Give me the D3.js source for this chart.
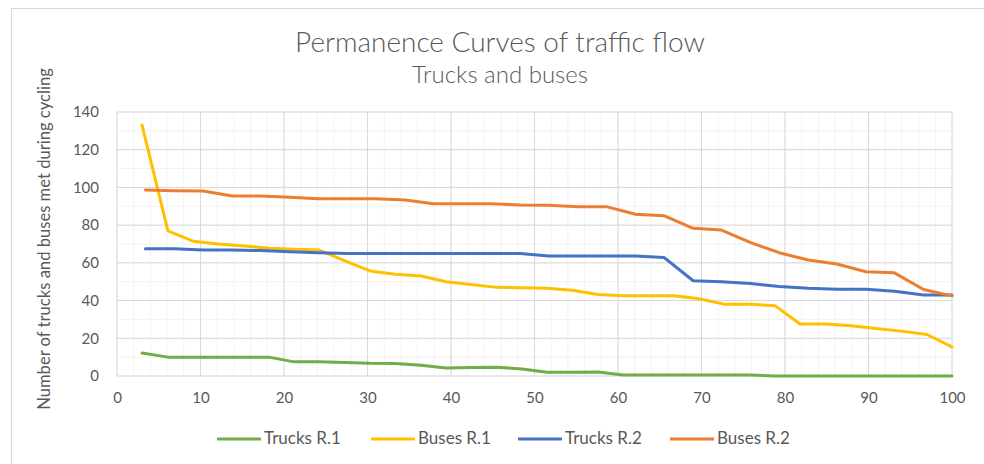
<!DOCTYPE html>
<html>
<head>
<meta charset="utf-8">
<script src="https://cdn.jsdelivr.net/npm/d3@7"></script>
<style>
  body { margin: 0; background: #fff; }
  text { font-family: Lato, "Open Sans", sans-serif; fill: #595959; }
</style>
</head>
<body>
<svg id="chart"></svg>
<script>
// permanence curves, trucks and buses met on two routes

// DATA
// x = % of time, route 1 has 33 samples, route 2 has 29
let xR1 = [3.0, 6.1, 9.1, 12.1, 15.2, 18.2, 21.2, 24.2, 27.3, 30.3, 33.3, 36.4, 39.4,
           42.4, 45.5, 48.5, 51.5, 54.5, 57.6, 60.6, 63.6, 66.7, 69.7, 72.7, 75.8,
           78.8, 81.8, 84.8, 87.9, 90.9, 93.9, 97.0, 100];
let xR2 = [3.4, 6.9, 10.3, 13.8, 17.2, 20.7, 24.1, 27.6, 31.0, 34.5, 37.9, 41.4, 44.8,
           48.3, 51.7, 55.2, 58.6, 62.1, 65.5, 69.0, 72.4, 75.9, 79.3, 82.8, 86.2,
           89.7, 93.1, 96.6, 100];

let trucksR1 = [12.2, 10, 10, 10, 10, 10, 7.5, 7.5, 7.2, 6.7, 6.6, 5.7, 4.3, 4.5, 4.7,
                3.7, 2.0, 2.0, 2.1, 0.5, 0.5, 0.5, 0.5, 0.5, 0.5, 0, 0, 0, 0, 0, 0, 0, 0];
let busesR1 = [133, 77, 71.5, 70, 69, 67.7, 67.2, 66.8, 61, 55.7, 54, 53, 50, 48.5, 47,
               46.8, 46.5, 45.5, 43.2, 42.6, 42.6, 42.6, 41, 38.1, 38.1, 37.3, 27.6,
               27.6, 26.6, 25.2, 23.8, 22, 15.4];
let trucksR2 = [67.5, 67.5, 66.8, 66.8, 66.5, 65.9, 65.3, 65, 65, 65, 65, 65, 65, 65,
                63.6, 63.6, 63.6, 63.6, 62.9, 50.5, 50, 49, 47.5, 46.5, 46, 46, 45, 43, 43];
let busesR2 = [98.7, 98.3, 98.1, 95.5, 95.5, 94.8, 94, 94, 94, 93.3, 91.3, 91.3, 91.3,
               90.7, 90.5, 89.8, 89.8, 85.8, 85, 78.3, 77.4, 70.7, 65.4, 61.5, 59.4,
               55.3, 54.7, 45.9, 42.5];

let seriesNames = ["Trucks R.1", "Buses R.1", "Trucks R.2", "Buses R.2"];
let xTicks = [0, 10, 20, 30, 40, 50, 60, 70, 80, 90, 100];
let yTicks = [0, 20, 40, 60, 80, 100, 120, 140];

// SETUP
let win = {w: 984, h: 464};
let plot = {l: 117, r: 952, t: 112, b: 376};
let colors = ["#70ad47", "#ffc000", "#4472c4", "#ed7d31"];

const svg = d3.select("#chart")
  .attr("width", win.w)
  .attr("height", win.h);

// chart frame
svg.append("rect")
  .attr("x", 11.5).attr("y", 8.5)
  .attr("width", 990).attr("height", 480)
  .attr("fill", "none")
  .attr("stroke", "#d9d9d9");

let x = d3.scaleLinear().domain([0, 100]).range([plot.l, plot.r]);
let y = d3.scaleLinear().domain([0, 140]).range([plot.b, plot.t]);

// gridlines, minor first then major
const grid = svg.append("g");
grid.selectAll(".xminor")
  .data(d3.range(0, 101, 2))
  .enter().append("line")
  .attr("x1", d => x(d)).attr("x2", d => x(d))
  .attr("y1", plot.t).attr("y2", plot.b)
  .attr("stroke", "#f2f2f2");
grid.selectAll(".yminor")
  .data(d3.range(0, 141, 10))
  .enter().append("line")
  .attr("x1", plot.l).attr("x2", plot.r)
  .attr("y1", d => y(d)).attr("y2", d => y(d))
  .attr("stroke", "#f2f2f2");
grid.selectAll(".xmajor")
  .data(xTicks)
  .enter().append("line")
  .attr("x1", d => x(d)).attr("x2", d => x(d))
  .attr("y1", plot.t).attr("y2", plot.b)
  .attr("stroke", "#d9d9d9");
grid.selectAll(".ymajor")
  .data(yTicks)
  .enter().append("line")
  .attr("x1", plot.l).attr("x2", plot.r)
  .attr("y1", d => y(d)).attr("y2", d => y(d))
  .attr("stroke", "#d9d9d9");

// axes (labels only)
const xAxis = svg.append("g")
  .attr("transform", "translate(0," + (plot.b + 13) + ")")
  .call(d3.axisBottom(x).tickValues(xTicks).tickSize(0));
const yAxis = svg.append("g")
  .attr("transform", "translate(" + (plot.l - 15) + ",0)")
  .call(d3.axisLeft(y).tickValues(yTicks).tickSize(0));
[xAxis, yAxis].forEach(function(a) {
  a.select(".domain").remove();
  a.selectAll("text")
    .attr("font-size", 15)
    .style("font-family", "Lato, sans-serif")
    .attr("fill", "#595959");
});

// LINES
let allY = [trucksR1, busesR1, trucksR2, busesR2];
let allX = [xR1, xR1, xR2, xR2];
let line = d3.line().x(d => x(d[0])).y(d => y(d[1]));

allY.forEach(function(vals, k) {
  svg.append("path")
    .datum(vals.map((v, i) => [allX[k][i], v]))
    .attr("d", line)
    .attr("fill", "none")
    .attr("stroke", colors[k])
    .attr("stroke-width", 3)
    .attr("stroke-linejoin", "round")
    .attr("stroke-linecap", "round");
});

// TITLES
svg.append("text")
  .attr("x", 500).attr("y", 52)
  .attr("text-anchor", "middle")
  .attr("font-size", 28)
  .attr("font-weight", 300)
  .text("Permanence Curves of traffic flow");

svg.append("text")
  .attr("x", 500).attr("y", 83)
  .attr("text-anchor", "middle")
  .attr("font-size", 24)
  .attr("font-weight", 300)
  .text("Trucks and buses");

svg.append("text")
  .attr("transform", "translate(50,239) rotate(-90)")
  .attr("text-anchor", "middle")
  .attr("font-size", 16.6)
  .text("Number of trucks and buses met during cycling");

// LEGEND
let legendX = [217, 371, 518, 670];
seriesNames.forEach(function(name, k) {
  svg.append("line")
    .attr("x1", legendX[k]).attr("x2", legendX[k] + 44)
    .attr("y1", 439).attr("y2", 439)
    .attr("stroke", colors[k])
    .attr("stroke-width", 3);
  svg.append("text")
    .attr("x", legendX[k] + 47).attr("y", 444)
    .attr("font-size", 17)
    .text(name);
});
</script>
</body>
</html>
